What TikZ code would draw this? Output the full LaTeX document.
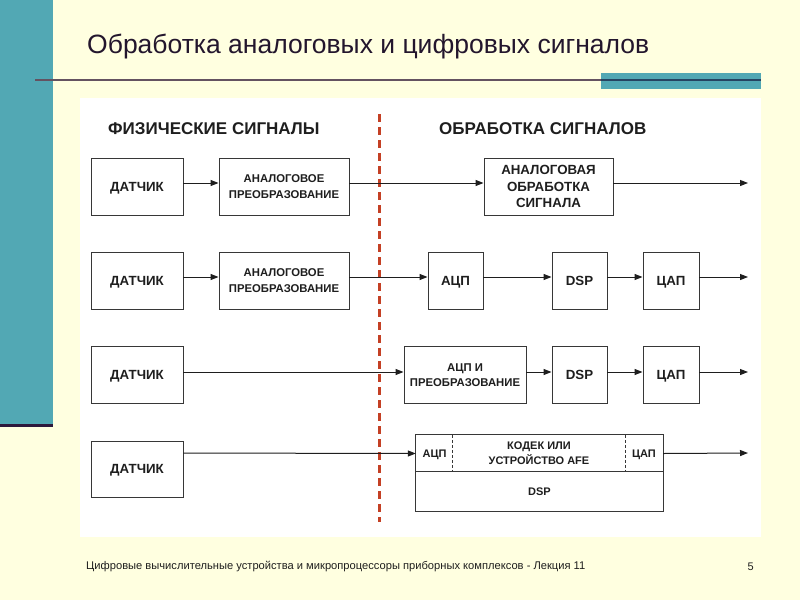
\documentclass[tikz,border=0pt]{standalone}
\usepackage{fontspec}
\setmainfont{Liberation Sans}
\usetikzlibrary{arrows.meta}
\definecolor{bgyellow}{RGB}{255,255,224}
\definecolor{teal1}{RGB}{82,168,180}
\definecolor{darkline}{RGB}{45,25,60}
\definecolor{ruleA}{RGB}{100,82,96}
\definecolor{ruleB}{RGB}{38,68,98}
\definecolor{titlecol}{RGB}{35,22,45}
\definecolor{redline}{RGB}{196,64,36}
\definecolor{boxline}{RGB}{55,55,55}
\definecolor{txt}{RGB}{30,30,30}
\tikzset{
  x=1pt,y=-1pt,
  box/.style={draw=boxline,line width=0.9pt,fill=white,inner sep=0pt,align=center,text=txt},
  lbl/.style={inner sep=0pt,align=center,text=txt},
  arr/.style={draw=txt,line width=1pt,-{Triangle[length=8pt,width=6pt]}},
  one/.style={text height=9.5pt,text depth=0pt},
  onesm/.style={text height=8.2pt,text depth=0pt},
  fbig/.style={font=\bfseries\fontsize{13.3}{16.5}\selectfont},
  fmid/.style={font=\bfseries\fontsize{11.3}{15.5}\selectfont},
  fsmall/.style={font=\bfseries\fontsize{11}{15}\selectfont},
}
\begin{document}
\begin{tikzpicture}
\useasboundingbox (0,0) rectangle (800,600);
\fill[bgyellow] (0,0) rectangle (800,600);
% left bar
\fill[teal1] (0,0) rectangle (53,427);
\fill[darkline] (0,424) rectangle (53,427);
% title rule
\fill[teal1] (601,73) rectangle (761,89);
\draw[ruleA,line width=2.5pt] (35,80) -- (601,80);
\draw[ruleB,line width=2.5pt] (601,80) -- (761,80);
\node[anchor=west,inner sep=0pt,text=titlecol,font=\fontsize{26.5}{30}\selectfont] (title) at (87,47) {Обработка аналоговых и цифровых сигналов};
% panel
\fill[white] (80,98) rectangle (761,537);
% headers
\node[anchor=west,lbl,font=\bfseries\fontsize{17}{18}\selectfont] (h1) at (108,129) {ФИЗИЧЕСКИЕ СИГНАЛЫ};
\node[anchor=west,lbl,font=\bfseries\fontsize{17}{18}\selectfont] (h2) at (439,129) {ОБРАБОТКА СИГНАЛОВ};
% red dashed divider
\coordinate (dtop) at (379.5,114);
\coordinate (dbot) at (379.5,522);
\draw[redline,line width=3pt,dash pattern=on 8pt off 5pt] (dtop) -- (dbot);

% Row 1
\node[box,fbig,one,minimum width=92,minimum height=57] (d1) at (137,186.5) {ДАТЧИК};
\node[box,fmid,minimum width=130,minimum height=57] (p1) at (284,186.5) {АНАЛОГОВОЕ\\ПРЕОБРАЗОВАНИЕ};
\node[box,fbig,minimum width=129,minimum height=57] (ap1) at (548.5,186.5) {АНАЛОГОВАЯ\\ОБРАБОТКА\\СИГНАЛА};
\coordinate (e1) at (748,183);
\draw[arr] ([yshift=3.5pt]d1.east) -- ([yshift=3.5pt]p1.west);
\draw[arr] ([yshift=3.5pt]p1.east) -- ([yshift=3.5pt]ap1.west);
\draw[arr] ([yshift=3.5pt]ap1.east) -- (e1);

% Row 2
\node[box,fbig,one,minimum width=92,minimum height=57] (d2) at (137,280.5) {ДАТЧИК};
\node[box,fmid,minimum width=130,minimum height=57] (p2) at (284,280.5) {АНАЛОГОВОЕ\\ПРЕОБРАЗОВАНИЕ};
\node[box,fbig,one,minimum width=55,minimum height=57] (adc2) at (455.5,280.5) {АЦП};
\node[box,fbig,one,minimum width=55,minimum height=57] (dsp2) at (579.5,280.5) {DSP};
\node[box,fbig,one,minimum width=56,minimum height=57] (dac2) at (671,280.5) {ЦАП};
\coordinate (e2) at (748,277);
\draw[arr] ([yshift=3.5pt]d2.east) -- ([yshift=3.5pt]p2.west);
\draw[arr] ([yshift=3.5pt]p2.east) -- ([yshift=3.5pt]adc2.west);
\draw[arr] ([yshift=3.5pt]adc2.east) -- ([yshift=3.5pt]dsp2.west);
\draw[arr] ([yshift=3.5pt]dsp2.east) -- ([yshift=3.5pt]dac2.west);
\draw[arr] ([yshift=3.5pt]dac2.east) -- (e2);

% Row 3
\node[box,fbig,one,minimum width=92,minimum height=57] (d3) at (137,375) {ДАТЧИК};
\node[box,fmid,minimum width=122,minimum height=57] (ap3) at (465,375) {АЦП И\\ПРЕОБРАЗОВАНИЕ};
\node[box,fbig,one,minimum width=55,minimum height=57] (dsp3) at (579.5,375) {DSP};
\node[box,fbig,one,minimum width=56,minimum height=57] (dac3) at (671,375) {ЦАП};
\coordinate (e3) at (748,372);
\draw[arr] ([yshift=3pt]d3.east) -- ([yshift=3pt]ap3.west);
\draw[arr] ([yshift=3pt]ap3.east) -- ([yshift=3pt]dsp3.west);
\draw[arr] ([yshift=3pt]dsp3.east) -- ([yshift=3pt]dac3.west);
\draw[arr] ([yshift=3pt]dac3.east) -- (e3);

% Row 4
\node[box,fbig,one,minimum width=92,minimum height=56] (d4) at (137,469) {ДАТЧИК};
\node[lbl,fsmall,onesm,minimum width=37,minimum height=37] (adc4) at (434.5,453.5) {АЦП};
\node[lbl,fsmall,minimum width=172,minimum height=37] (codec4) at (539,453.5) {КОДЕК ИЛИ\\УСТРОЙСТВО AFE};
\node[lbl,fsmall,onesm,minimum width=38,minimum height=37] (dac4) at (644,453.5) {ЦАП};
\node[lbl,fsmall,onesm,minimum width=247,minimum height=39] (dsp4) at (539.5,491.5) {DSP};
\draw[boxline,line width=0.9pt] (adc4.north west) rectangle (dsp4.south east);
\draw[boxline,line width=0.9pt] (dsp4.north west) -- (dsp4.north east);
\draw[boxline,line width=0.7pt,dash pattern=on 3pt off 2pt] (codec4.north west) -- (codec4.south west);
\draw[boxline,line width=0.7pt,dash pattern=on 3pt off 2pt] (codec4.north east) -- (codec4.south east);
\coordinate (e4) at (748,453);
\draw[arr] ([yshift=16pt]d4.east) -- (adc4.west);
\draw[arr] (dac4.east) -- (e4);

% footer
\node[anchor=west,inner sep=0pt,text=txt,font=\fontsize{11.15}{13}\selectfont] (foot) at (86,567) {Цифровые вычислительные устройства и микропроцессоры приборных комплексов - Лекция 11};
\node[anchor=east,inner sep=0pt,text=txt,font=\fontsize{11}{13}\selectfont] (pg) at (754,567) {5};
\end{tikzpicture}
\end{document}
